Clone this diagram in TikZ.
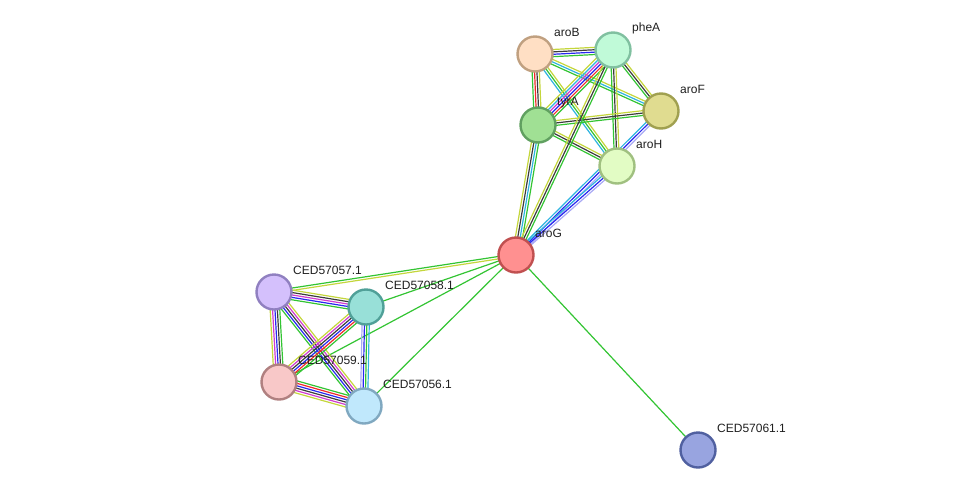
\documentclass[tikz,border=0pt]{standalone}
\usepackage{fontspec}
\setmainfont{Liberation Sans}
\usetikzlibrary{calc,backgrounds}

\definecolor{nbgreen}{HTML}{33C433}
\definecolor{coblue}{HTML}{2828F0}
\definecolor{cxblack}{HTML}{3C3C3C}
\definecolor{exmag}{HTML}{D03CD0}
\definecolor{dbcyan}{HTML}{2EB4E0}
\definecolor{txtyel}{HTML}{C4D63C}
\definecolor{fusred}{HTML}{F02828}
\definecolor{homlav}{HTML}{A8A8F4}

\tikzset{
  prot/.style={circle,minimum size=35pt,inner sep=0pt,line width=2.4pt},
  plabel/.style={anchor=west,text=black!88,font=\fontsize{12}{14}\selectfont,inner sep=1pt},
  ln/.style={line width=1.2pt}
}

% bundle of coloured evidence lines between two proteins
\newcommand{\bund}[3]{%
  \foreach \c [count=\k] in {#3} {\xdef\nlines{\k}}%
  \foreach \c [count=\i] in {#3} {%
    \pgfmathsetmacro{\off}{(\i-(\nlines+1)/2)*2.4}%
    \draw[ln,\c] ($(#1)!\off pt!90:(#2)$) -- ($(#2)!\off pt!-90:(#1)$);
  }}

\begin{document}
\begin{tikzpicture}[x=1pt,y=-1pt]
\useasboundingbox (0,0) rectangle (976,496);

\node[prot,draw={rgb,255:red,192;green,160;blue,128},fill={rgb,255:red,255;green,223;blue,196}] (aroB) at (535,54) {};
\node[prot,draw={rgb,255:red,128;green,192;blue,160},fill={rgb,255:red,192;green,250;blue,216}] (pheA) at (613,50) {};
\node[prot,draw={rgb,255:red,160;green,160;blue,80},fill={rgb,255:red,224;green,220;blue,144}] (aroF) at (661,111) {};
\node[prot,draw={rgb,255:red,96;green,160;blue,96},fill={rgb,255:red,160;green,224;blue,148}] (tyrA) at (538,125) {};
\node[prot,draw={rgb,255:red,160;green,192;blue,128},fill={rgb,255:red,226;green,252;blue,196}] (aroH) at (617,166) {};
\node[prot,draw={rgb,255:red,192;green,80;blue,80},fill={rgb,255:red,255;green,144;blue,144}] (aroG) at (516,255) {};
\node[prot,draw={rgb,255:red,144;green,128;blue,192},fill={rgb,255:red,212;green,192;blue,252}] (c57) at (274,292) {};
\node[prot,draw={rgb,255:red,80;green,160;blue,152},fill={rgb,255:red,152;green,224;blue,216}] (c58) at (366,307) {};
\node[prot,draw={rgb,255:red,176;green,128;blue,128},fill={rgb,255:red,248;green,200;blue,200}] (c59) at (279,382) {};
\node[prot,draw={rgb,255:red,128;green,168;blue,192},fill={rgb,255:red,192;green,232;blue,252}] (c56) at (364,406) {};
\node[prot,draw={rgb,255:red,80;green,96;blue,160},fill={rgb,255:red,152;green,164;blue,224}] (c61) at (698,450) {};

\node[plabel] at ($(aroB)+(18,-22)$) {aroB};
\node[plabel] at ($(pheA)+(18,-22)$) {pheA};
\node[plabel] at ($(aroF)+(18,-22)$) {aroF};
\node[plabel] at ($(tyrA)+(18,-22)$) {tyrA};
\node[plabel] at ($(aroH)+(18,-22)$) {aroH};
\node[plabel] at ($(aroG)+(18,-22)$) {aroG};
\node[plabel] at ($(c57)+(18,-22)$) {CED57057.1};
\node[plabel] at ($(c58)+(18,-22)$) {CED57058.1};
\node[plabel] at ($(c59)+(18,-22)$) {CED57059.1};
\node[plabel] at ($(c56)+(18,-22)$) {CED57056.1};
\node[plabel] at ($(c61)+(18,-22)$) {CED57061.1};

\begin{scope}[on background layer]
\bund{aroB}{pheA}{nbgreen,coblue,cxblack,txtyel}
\bund{aroB}{tyrA}{nbgreen,fusred,cxblack,txtyel}
\bund{aroB}{aroF}{nbgreen,dbcyan,txtyel}
\bund{aroB}{aroH}{dbcyan,nbgreen,txtyel}
\bund{pheA}{tyrA}{txtyel,dbcyan,exmag,coblue,fusred,nbgreen}
\bund{pheA}{aroF}{nbgreen,cxblack,txtyel}
\bund{pheA}{aroH}{nbgreen,cxblack,txtyel}
\bund{tyrA}{aroF}{nbgreen,cxblack,txtyel}
\bund{tyrA}{aroH}{nbgreen,cxblack,txtyel}
\bund{aroG}{tyrA}{nbgreen,dbcyan,cxblack,txtyel}
\bund{aroG}{pheA}{nbgreen,cxblack,txtyel}
\bund{aroG}{aroF}{homlav,coblue,dbcyan}
\bund{aroG}{aroH}{homlav,coblue,dbcyan}
\bund{aroG}{c57}{nbgreen,txtyel}
\bund{aroG}{c58}{nbgreen}
\bund{aroG}{c59}{nbgreen}
\bund{aroG}{c56}{nbgreen}
\bund{aroG}{c61}{nbgreen}
\bund{c57}{c58}{nbgreen,coblue,exmag,cxblack,txtyel}
\bund{c57}{c59}{txtyel,exmag,coblue,cxblack,nbgreen}
\bund{c57}{c56}{nbgreen,coblue,cxblack,exmag,txtyel}
\bund{c58}{c59}{txtyel,exmag,cxblack,coblue,fusred,nbgreen}
\bund{c58}{c56}{homlav,coblue,nbgreen,dbcyan}
\bund{c59}{c56}{txtyel,exmag,cxblack,coblue,fusred,nbgreen}
\end{scope}
\end{tikzpicture}
\end{document}
